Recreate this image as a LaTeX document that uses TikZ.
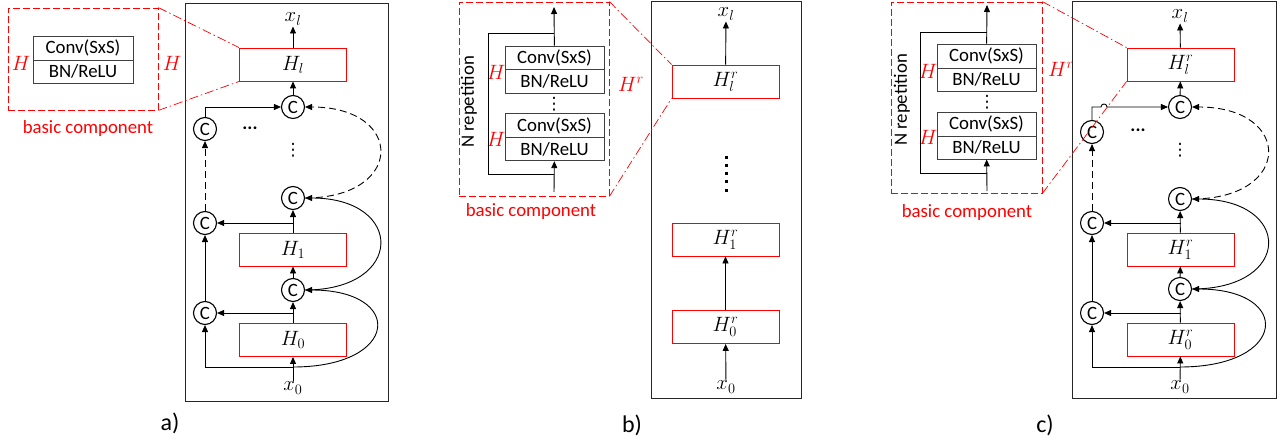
\documentclass[tikz,border=0pt]{standalone}
\usepackage[no-math]{fontspec}
\setmainfont{Carlito}
\newfontfamily\symfont{DejaVu Sans}
\usetikzlibrary{arrows.meta, positioning}

\begin{document}
\begin{tikzpicture}[x=1pt, y=-1pt, line width=0.9pt, >={Triangle[length=7pt,width=6pt]}]

    % Define styles
    \tikzstyle{hbox} = [draw=red, minimum width=107pt, minimum height=33pt, inner sep=0pt, font=\fontsize{20}{24}\selectfont]
    \tikzstyle{cat} = [draw, circle, line width=1.1pt, minimum size=23pt, inner sep=0pt, font=\fontsize{18.8}{22}\selectfont]
    \tikzstyle{convlayer} = [draw=black!75, minimum width=99pt, inner sep=0pt, font=\fontsize{18.8}{22}\selectfont]
    \tikzstyle{compbox} = [draw=red, line width=0.8pt, dash pattern=on 7pt off 3pt, inner sep=0pt]
    \tikzstyle{zoomline} = [red, line width=0.7pt, dash pattern=on 9pt off 3pt on 1.5pt off 3pt]
    \tikzstyle{redtxt} = [red, font=\fontsize{18.8}{22}\selectfont]
    \tikzstyle{redmath} = [red, font=\fontsize{21}{25}\selectfont]
    \tikzstyle{mathtxt} = [font=\fontsize{20}{24}\selectfont, inner sep=1pt]
    \tikzstyle{sftxt} = [font=\fontsize{18.8}{22}\selectfont, inner sep=0pt]
    \tikzstyle{vdot} = [font=\symfont\fontsize{17}{20}\selectfont, inner sep=0pt]
    \tikzstyle{frame} = [draw=black!85, line width=1pt]

    \useasboundingbox (0,0) rectangle (1282,441);

    % ---------------- a) ----------------
    % basic component
    \node[compbox, minimum width=150pt, minimum height=102pt] (acomp) at (83,59) {};
    \node[convlayer, minimum width=100pt, minimum height=24pt] (aconv) at (83,48) {Conv(SxS)};
    \node[convlayer, minimum width=100pt, minimum height=23pt] (abn) at (83,71.5) {BN/ReLU};
    \node[redmath] (ahin) at (21,63) {$H$};
    \node[redmath] (ahout) at (172,63) {$H$};
    \node[redtxt] (acap) at (88,128) {basic component};

    % dense block
    \draw[frame] (185,4) rectangle (388,401);
    \node[mathtxt] (axl) at (293,19) {$x_l$};
    \node[hbox] (aHl) at (293,64.5) {$H_l$};
    \node[cat] (ac4) at (293,107) {C};
    \node[cat] (al3) at (205,129) {C};
    \node[sftxt] (adots) at (250,128) {\textbf{...}};
    \node[vdot] (avdots) at (293,150) {⋮};
    \node[cat] (ac2) at (293,198) {C};
    \node[cat] (al2) at (205,223) {C};
    \node[hbox] (aH1) at (293,249.5) {$H_1$};
    \node[cat] (ac1) at (293,290) {C};
    \node[cat] (al1) at (205,313) {C};
    \node[hbox] (aH0) at (293,340) {$H_0$};
    \node[mathtxt] (ax0) at (293,388) {$x_0$};
    \coordinate (ab) at (205,367);
    \coordinate (abm) at (293,367);

    \draw[->] (ax0) -- (aH0);
    \draw (ab) -- (abm);
    \draw[->] (ab) -- (al1);
    \draw[->] (abm) .. controls +(107,0) and +(100,0) .. (ac1.east);
    \draw[->] (aH0) -- (ac1);
    \draw[->] (al1 -| aH0) -- (al1);
    \draw[->] (ac1) -- (aH1);
    \draw[->] (aH1) -- (ac2);
    \draw[->] (al2 -| aH1) -- (al2);
    \draw[->] (ac1.east) .. controls +(100,0) and +(100,0) .. (ac2.east);
    \draw[->] (al1) -- (al2);
    \draw[->, dash pattern=on 7pt off 4pt] (al2) -- (al3);
    \draw[->, dash pattern=on 7pt off 4pt] (ac2.east) .. controls +(100,0) and +(100,0) .. (ac4.east);
    \draw[->] (al3.north) |- (ac4);
    \draw[->] (ac4) -- (aHl);
    \draw[->] (aHl) -- (axl);

    \draw[zoomline] (acomp.north east) -- (aHl.north west);
    \draw[zoomline] (acomp.south east) -- (aHl.south west);
    \node[font=\fontsize{24}{28}\selectfont] (alab) at (170,423) {a)};

    % ---------------- b) ----------------
    % basic component
    \node[compbox, minimum width=150pt, minimum height=194pt] (bcomp) at (534,99) {};
    \node[convlayer, minimum height=23.5pt] (bconv1) at (554.5,57.75) {Conv(SxS)};
    \node[convlayer, minimum height=23.5pt] (bbn1) at (554.5,81.25) {BN/ReLU};
    \node[vdot] (bvd) at (554,104) {⋮};
    \node[convlayer, minimum height=23.5pt] (bconv2) at (554.5,125.5) {Conv(SxS)};
    \node[convlayer, minimum height=23.5pt] (bbn2) at (554.5,149) {BN/ReLU};
    \node[redmath] (bh1) at (496,72) {$H$};
    \node[redmath] (bh2) at (496,139) {$H$};
    \node[sftxt, rotate=90] (brep) at (469,102) {N repetition};
    \coordinate (bin) at (554,192);
    \coordinate (bll) at (488,174);
    \coordinate (bul) at (488,33);
    \coordinate (bout) at (554,7);
    \draw[->] (bin) -- (bbn2);
    \draw (bin |- bll) -- (bll) -- (bul) -- (bul -| bout);
    \draw[->] (bconv1) -- (bout);
    \node[redmath] (bhr) at (631,84) {$H^r$};
    \node[redtxt] (bcap) at (531,211) {basic component};

    % plain stack
    \draw[frame] (651,2) rectangle (801,398);
    \node[mathtxt] (bxl) at (726,14) {$x_l$};
    \node[hbox] (bHl) at (725.5,81.5) {$H_l^r$};
    \foreach \y in {157,165.25,...,190}
        \fill (724.5,\y-1.5) rectangle ++(3,3);
    \node[hbox] (bH1) at (725.5,239.5) {$H_1^r$};
    \node[hbox] (bH0) at (725.5,327) {$H_0^r$};
    \node[mathtxt] (bx0) at (726,387) {$x_0$};
    \draw[->] (bx0) -- (bH0);
    \draw[->] (bH0) -- (bH1);
    \draw[->] (bHl) -- (bxl);

    \draw[zoomline] (bcomp.north east) -- (bHl.north west);
    \draw[zoomline] (bcomp.south east) -- (bHl.south west);
    \node[font=\fontsize{24}{28}\selectfont] (blab) at (632,425) {b)};

    % ---------------- c) ----------------
    % basic component
    \node[compbox, minimum width=151pt, minimum height=191pt] (ccomp) at (966.5,97.5) {};
    \node[convlayer, minimum height=24pt] (cconv1) at (986.5,56) {Conv(SxS)};
    \node[convlayer, minimum height=23pt] (cbn1) at (986.5,79.5) {BN/ReLU};
    \node[vdot] (cvd) at (987,102) {⋮};
    \node[convlayer, minimum height=24pt] (cconv2) at (986.5,124) {Conv(SxS)};
    \node[convlayer, minimum height=23pt] (cbn2) at (986.5,147.5) {BN/ReLU};
    \node[redmath] (ch1) at (928,71) {$H$};
    \node[redmath] (ch2) at (928,137) {$H$};
    \node[sftxt, rotate=90] (crep) at (902,100) {N repetition};
    \coordinate (cin) at (987,191);
    \coordinate (cll) at (920,173);
    \coordinate (cul) at (920,32);
    \coordinate (cout) at (987,5);
    \draw[->] (cin) -- (cbn2);
    \draw (cin |- cll) -- (cll) -- (cul) -- (cul -| cout);
    \draw[->] (cconv1) -- (cout);
    \node[redmath] (chr) at (1061,69) {$H^r$};
    \node[redtxt] (ccap) at (967,212) {basic component};

    % dense block with repeated H
    \draw[frame] (1072,2) rectangle (1276,398);
    \node[mathtxt] (cxl) at (1180,16) {$x_l$};
    \node[hbox] (cHl) at (1180.5,64.5) {$H_l^r$};
    \node[cat] (cc4) at (1180,107) {C};
    \node[cat] (cl3) at (1092,132) {C};
    \node[sftxt] (cdots) at (1138,130) {\textbf{...}};
    \node[vdot] (cvdots) at (1180,150) {⋮};
    \node[cat] (cc2) at (1180,199) {C};
    \node[cat] (cl2) at (1092,223) {C};
    \node[hbox] (cH1) at (1180.5,249.5) {$H_1^r$};
    \node[cat] (cc1) at (1180,289) {C};
    \node[cat] (cl1) at (1092,313) {C};
    \node[hbox] (cH0) at (1180.5,339.5) {$H_0^r$};
    \node[mathtxt] (cx0) at (1180,387) {$x_0$};
    \coordinate (cb) at (1092,367);
    \coordinate (cbm) at (1180,367);
    \coordinate (chopa) at (1101,107);
    \coordinate (chopb) at (1107,107);

    \draw[->] (cx0) -- (cH0);
    \draw (cb) -- (cbm);
    \draw[->] (cb) -- (cl1);
    \draw[->] (cbm) .. controls +(108,0) and +(101,0) .. (cc1.east);
    \draw[->] (cH0) -- (cc1);
    \draw[->] (cl1 -| cH0) -- (cl1);
    \draw[->] (cc1) -- (cH1);
    \draw[->] (cH1) -- (cc2);
    \draw[->] (cl2 -| cH1) -- (cl2);
    \draw[->] (cc1.east) .. controls +(101,0) and +(101,0) .. (cc2.east);
    \draw[->] (cl1) -- (cl2);
    \draw[->, dash pattern=on 7pt off 4pt] (cl2) -- (cl3);
    \draw[->, dash pattern=on 7pt off 4pt] (cc2.east) .. controls +(101,0) and +(101,0) .. (cc4.east);
    \draw[->] (cl3.north) |- (chopa) .. controls +(0,-4) and +(0,-4) .. (chopb) -- (cc4);
    \draw[->] (cc4) -- (cHl);
    \draw[->] (cHl) -- (cxl);

    \draw[zoomline] (ccomp.north east) -- (cHl.north west);
    \draw[zoomline] (ccomp.south east) -- (cHl.south west);
    \node[font=\fontsize{24}{28}\selectfont] (clab) at (1045,425) {c)};

\end{tikzpicture}
\end{document}
